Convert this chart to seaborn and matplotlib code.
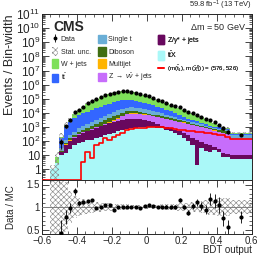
import numpy as np
import pandas as pd
import matplotlib
matplotlib.use("Agg")
import matplotlib.pyplot as plt
import seaborn as sns
from matplotlib.ticker import LogLocator, FuncFormatter, MultipleLocator, FixedLocator, NullFormatter
from matplotlib.patches import Patch
from matplotlib.lines import Line2D
from matplotlib.legend_handler import HandlerTuple

# ---------------- data ----------------
# 41 bins of 0.025 from -0.55 to 0.475, then one wide bin 0.475-0.6
bin_edges = [float(v) for v in np.round(-0.55 + 0.025 * np.arange(42), 4)] + [0.6]

ttx = [1.0, 2.8, 10, 14.1, 28.2, 50, 71, 89, 112, 126, 178, 200, 251, 316, 398, 479, 575, 708, 794, 891,
       1000, 1000, 955, 933, 891, 794, 631, 562, 398, 251, 158, 100, 56, 2, 32, 20, 18, 22, 16, 8, 7, 5.6]
zgamma = [0, 0, 5.8, 38, 72, 128, 211, 291, 389, 505, 713, 922, 1162, 1462, 1841, 2339, 2736, 3094, 3187, 3090,
          2548, 2020, 1557, 1156, 769, 465, 369, 232, 233, 228, 197, 151, 122, 124, 57, 43, 32, 18, 12, 6, 5.6, 4.4]
znunu = [0, 0, 1.2, 3.7, 7, 12.5, 20, 27, 36, 45, 64, 80, 101, 217, 579, 1163, 2312, 4141, 4932, 4932,
         4770, 4566, 4095, 3534, 3126, 2910, 2548, 2226, 1999, 1812, 1640, 1409, 1235, 1076, 911, 769, 658, 522,
         419, 341, 303, 131]
multijet = [0, 0, 0, 2.7, 5, 9, 14, 20, 25, 32, 45, 57, 71, 94, 133, 285, 403, 568, 637, 637,
            595, 542, 472, 403, 343, 298, 254, 216, 188, 108, 94, 78, 66, 57, 47, 39, 33, 27, 21, 8, 8, 0]
diboson = [0, 0, 3, 20.5, 46, 82, 131, 234, 329, 494, 660, 980, 1577, 2080, 2672, 3320, 3974, 4078, 3633, 3039,
           2569, 1872, 1834, 1560, 1478, 1287, 1210, 933, 730, 621, 423, 351, 259, 186, 155, 129, 91, 87, 135,
           329, 238, 7]
singletop = [0, 0, 11.6, 40.8, 93, 197, 347, 461, 658, 936, 1360, 1930, 2592, 3774, 5092, 7550, 9953, 11399,
             11936, 11399, 9898, 8621, 6936, 5597, 4358, 3366, 2574, 2141, 1464, 961, 650, 541, 501, 417, 312,
             259, 215, 195, 138, 67, 69, 134]
ttbar = [0, 0, 146, 880, 1988, 3690, 5813, 8211, 10754, 13711, 17873, 22746, 29727, 36725, 44239, 50933, 55905,
         57295, 54314, 48456, 41716, 33860, 26809, 20701, 15950, 12260, 9396, 6572, 4538, 3098, 2086, 1351, 923,
         650, 481, 326, 212, 176, 192, 132, 77, 34]
wjets = [0, 5.1, 22, 413, 923, 3774, 8529, 15786, 29384, 47247, 70308, 98978, 130478, 169128, 208073, 235926,
         255273, 257561, 236795, 209394, 171327, 138065, 105253, 78318, 58199, 44689, 33137, 25137, 19290, 15308,
         11348, 8608, 6171, 4406, 3017, 2130, 1433, 858, 447, 156, 86, 39]
signal = [0, 0, 0, 0, 0, 0, 0, 3.5, 17.8, 6.0, 52, 69, 158, 120, 204, 269, 355, 617, 692, 813, 891, 891, 955,
          1047, 1047, 1000, 891, 794, 724, 661, 617, 562, 501, 468, 417, 380, 355, 316, 282, 251, 204, 132]
data = [np.nan, np.nan, 84, 1102, 3099, 10723, 16347, 27631, 47106, 72560, 89377, 127152, 174257, 222348,
        247245, 305015, 334442, 338844, 313066, 279020, 229735, 194357, 153827, 114446, 84263, 66069, 50620,
        37639, 28840, 25969, 16596, 10952, 9613, 7610, 5162, 3492, 3150, 2153, 1449, 785, 437, 277]
mc_rel_unc = [1.0, 1.0, 0.9, 0.55, 0.35, 0.25, 0.2, 0.17, 0.15, 0.13, 0.12, 0.1, 0.09, 0.08, 0.07, 0.065, 0.06,
              0.06, 0.055, 0.055, 0.05, 0.05, 0.05, 0.05, 0.055, 0.06, 0.06, 0.065, 0.07, 0.08, 0.09, 0.1, 0.11,
              0.12, 0.13, 0.15, 0.17, 0.18, 0.2, 0.2, 0.2, 0.15]

processes = {  # top of stack first
    "W + jets": (wjets, "#7ee05a"),
    "ttbar": (ttbar, "#3366ff"),
    "Single t": (singletop, "#6aaed6"),
    "Diboson": (diboson, "#3f6e12"),
    "Multijet": (multijet, "#ffb400"),
    "Znunu": (znunu, "#c76dfb"),
    "Zgamma": (zgamma, "#68085e"),
    "ttX": (ttx, "#aaf8f8"),
}

# ---------------- style ----------------
sns.set_style("ticks")
plt.rcParams['font.family'] = ['Liberation Sans', 'DejaVu Sans']
plt.rcParams['mathtext.fontset'] = 'custom'
plt.rcParams['mathtext.rm'] = 'Liberation Sans'
plt.rcParams['mathtext.it'] = 'Liberation Sans:italic'
plt.rcParams['mathtext.bf'] = 'Liberation Sans:bold'
plt.rcParams['hatch.linewidth'] = 0.45
plt.rcParams['axes.linewidth'] = 0.7

edges = np.array(bin_edges)
centers = 0.5 * (edges[:-1] + edges[1:])
widths = np.diff(edges)

W, H = 266, 258
fig = plt.figure(figsize=(W / 100, H / 100), dpi=100)
ax = fig.add_axes([41.7 / W, 1 - 180 / H, 210 / W, 166 / H])
rax = fig.add_axes([41.7 / W, 1 - 234 / H, 210 / W, 54 / H], sharex=ax)

ylo, yhi = 0.174, 1.03e11

# stacked backgrounds
rows = []
for name, (vals, col) in processes.items():
    for c, v in zip(centers, vals):
        rows.append({"x": float(c), "w": float(v), "proc": name})
df = pd.DataFrame(rows)
palette = {k: v[1] for k, v in processes.items()}
sns.histplot(data=df, x="x", weights="w", hue="proc", hue_order=list(processes.keys()),
             palette=palette, multiple="stack", bins=bin_edges, element="step", fill=True,
             linewidth=0, alpha=1, legend=False, ax=ax)

total = np.sum([np.array(v[0], dtype=float) for v in processes.values()], axis=0)
unc = np.array(mc_rel_unc)

# stat. unc. band
ax.bar(centers, 2 * unc * total, bottom=total * (1 - unc), width=widths, fill=False,
       hatch="xxxxxx", edgecolor="#8a8a8a", linewidth=0, zorder=3)

# signal
sig_edges = [-0.6] + bin_edges
sig_centers = [0.5 * (a + b) for a, b in zip(sig_edges[:-1], sig_edges[1:])]
sig_vals = [max(v, ylo) for v in [0.0] + signal]
sdf = pd.DataFrame({"x": sig_centers, "w": sig_vals})
sns.histplot(data=sdf, x="x", weights="w", bins=sig_edges, element="step",
             fill=False, color="#ff0000", linewidth=1.2, ax=ax, zorder=4)

# data
data_arr = np.array(data, dtype=float)
n_ev = data_arr * widths
derr = np.sqrt(n_ev) / widths
ax.errorbar(centers, data_arr, yerr=derr, fmt="o", ms=2.0, color="black", elinewidth=0.6,
            capsize=0, zorder=5)

ax.set_yscale("log")
ax.set_ylim(ylo, yhi)
ax.set_xlim(-0.6, 0.6)
ax.yaxis.set_major_locator(FixedLocator([10.0 ** k for k in range(0, 12)]))
ax.yaxis.set_minor_locator(LogLocator(base=10, subs=np.arange(2, 10), numticks=30))
ax.yaxis.set_minor_formatter(NullFormatter())


def yfmt(v, pos):
    e = int(round(np.log10(v)))
    if e == 0:
        return "1"
    if e == 1:
        return "10"
    return r"$10^{%d}$" % e


ax.yaxis.set_major_formatter(FuncFormatter(yfmt))
ax.tick_params(axis="both", which="both", direction="in", top=True, right=True,
               labelbottom=False, bottom=True)
ax.tick_params(axis="both", which="major", length=5, width=0.6, labelsize=8.5, pad=1)
ax.tick_params(axis="both", which="minor", length=2.5, width=0.5)
ax.xaxis.set_major_locator(MultipleLocator(0.2))
ax.xaxis.set_minor_locator(MultipleLocator(0.05))
ax.set_xlabel("")
ax.set_ylabel("Events / Bin-width", fontsize=9, loc="top")
ax.yaxis.set_label_coords(-0.122, 1.0)

# ratio panel
ratio = data_arr / total
rerr = derr / total
rax.bar(centers, 2 * unc, bottom=1 - unc, width=widths, fill=False, hatch="xxxxxx",
        edgecolor="#8a8a8a", linewidth=0, zorder=2)
rax.axhline(1.0, color="#7f7f7f", lw=0.7, zorder=3)
rax.errorbar(centers, ratio, yerr=rerr, fmt="o", ms=2.0, color="black", elinewidth=0.6,
             capsize=0, zorder=5)
rax.set_ylim(0.4, 1.6)
rax.yaxis.set_major_locator(FixedLocator([0.5, 1.0, 1.5]))
rax.yaxis.set_major_formatter(FuncFormatter(lambda v, p: "1" if abs(v - 1) < 1e-9 else f"{v:.1f}"))
rax.yaxis.set_minor_locator(MultipleLocator(0.1))
rax.xaxis.set_major_locator(MultipleLocator(0.2))
rax.xaxis.set_minor_locator(MultipleLocator(0.05))
rax.xaxis.set_major_formatter(FuncFormatter(
    lambda v, p: "0" if abs(v) < 1e-9 else f"{v:.1f}".replace("-", "\u2212")))
rax.tick_params(axis="both", which="both", direction="in", top=True, right=True)
rax.tick_params(axis="both", which="major", length=5, width=0.6, labelsize=7, pad=1.5)
rax.tick_params(axis="both", which="minor", length=2.5, width=0.5)
rax.set_ylabel("Data / MC", fontsize=7)
rax.yaxis.set_label_coords(-0.122, 0.5)
rax.set_xlabel("BDT output", fontsize=7, loc="right")
rax.xaxis.set_label_coords(1.0, -0.2)

# texts
ax.text(0.054, 0.965, "CMS", transform=ax.transAxes, fontsize=10, fontweight="bold",
        ha="left", va="top")
ax.text(1.0, 1.012, r"59.8 fb$^{-1}$ (13 TeV)", transform=ax.transAxes, fontsize=5.5,
        ha="right", va="bottom")
ax.text(0.975, 0.92, r"$\Delta$m = 50 GeV", transform=ax.transAxes, fontsize=6.5,
        ha="right", va="center")

# legend: three columns, same row grid
hatch_patch = Patch(facecolor="white", hatch="xxxxxx", edgecolor="#8a8a8a", linewidth=0)
data_handle = (Line2D([0], [0], marker="|", ms=6, mew=0.6, color="black", ls="none"),
               Line2D([0], [0], marker="o", ms=1.8, color="black", ls="none"))
col1 = [(data_handle, "Data"), (hatch_patch, "Stat. unc."),
        (Patch(color=palette["W + jets"]), "W + jets"),
        (Patch(color=palette["ttbar"]), r"t$\bar{\mathrm{t}}$")]
col2 = [(Patch(color=palette["Single t"]), "Single t"), (Patch(color=palette["Diboson"]), "Diboson"),
        (Patch(color=palette["Multijet"]), "Multijet"),
        (Patch(color=palette["Znunu"]), r"Z $\rightarrow$ $\nu\bar{\nu}$ + jets")]
col3 = [(Patch(color=palette["Zgamma"]), r"Z/$\gamma$* + jets"),
        (Patch(color=palette["ttX"]), r"t$\bar{\mathrm{t}}$X"),
        (Line2D([0], [0], color="#ff0000", lw=1.2),
         r"(m($\tilde{\mathrm{t}}_1$), m($\tilde{\chi}^0_1$)) = (576, 526)")]
common = dict(loc="upper left", frameon=False, fontsize=5.0, handleheight=1.5,
              labelspacing=0.55, borderpad=0, borderaxespad=0,
              handler_map={tuple: HandlerTuple(ndivide=1)})
legs = []
for xpos, col, hl, pad in [(0.0476, col1, 0.95, 0.35), (0.268, col2, 1.2, 0.3), (0.5524, col3, 0.95, 0.4)]:
    hs, ls = zip(*col)
    lg = ax.legend(hs, ls, bbox_to_anchor=(xpos, 0.8747), handlelength=hl, handletextpad=pad, **common)
    ax.add_artist(lg)
    legs.append(lg)
legs[2].get_texts()[2].set_fontsize(4.4)

fig.savefig("out.png", dpi=100)
